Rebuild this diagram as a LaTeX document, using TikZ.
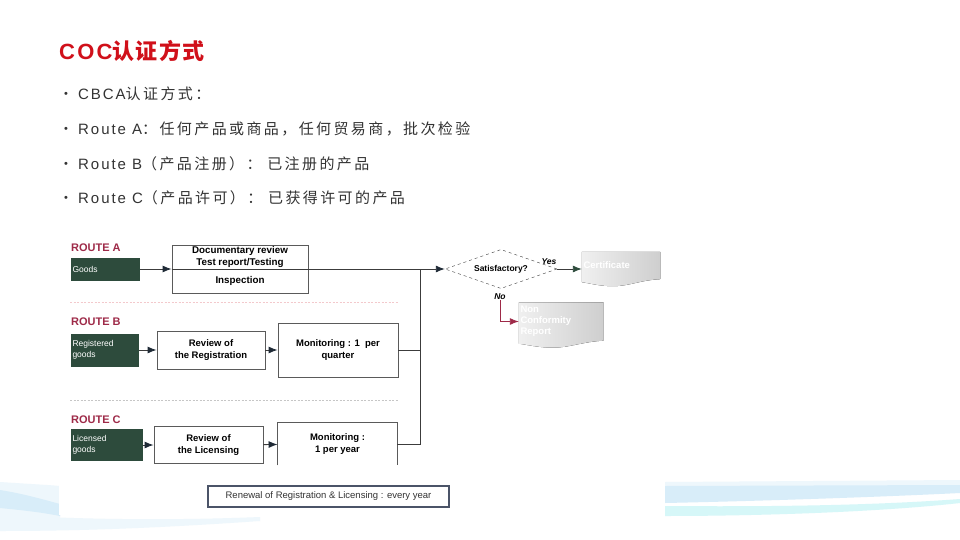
\documentclass[tikz,border=0pt]{standalone}
\usepackage{fontspec}
\setmainfont{Liberation Sans}
\newfontfamily\zhfont[LetterSpace=16]{Noto Sans CJK SC}
\newfontfamily\latinsp[LetterSpace=13]{Liberation Sans}
\newfontfamily\titlezh[LetterSpace=6]{Noto Sans CJK SC}
\newfontfamily\titlelat[LetterSpace=10]{Liberation Sans}
\usetikzlibrary{calc,positioning,shapes.geometric,arrows.meta,backgrounds}
\definecolor{cocred}{HTML}{D0101A}
\definecolor{routered}{HTML}{9E2A48}
\definecolor{goodsgreen}{HTML}{2D4B3C}
\definecolor{boxgray}{HTML}{5A5A5A}
\definecolor{linegray}{HTML}{3C3C3C}
\definecolor{tipdark}{HTML}{1F2A36}
\definecolor{pinkline}{HTML}{F3C9CC}
\definecolor{renewblue}{HTML}{4B5468}
\definecolor{bodytext}{HTML}{333333}
\definecolor{waveblue}{HTML}{D8EDF9}
\definecolor{wavecyan}{HTML}{D6F7F8}
\definecolor{wavepale}{HTML}{EEF7FC}

\begin{document}
\begin{tikzpicture}[x=1pt,y=-1pt]
\tikzstyle{bullet}=[inner sep=0pt, text=bodytext, font=\fontsize{11}{12}\selectfont]
\tikzstyle{line}=[anchor=west, inner sep=0pt, text=bodytext, font=\fontsize{15}{18}\selectfont]
\tikzstyle{route}=[anchor=west, inner sep=0pt, text=routered, font=\fontsize{11}{12}\selectfont\bfseries]
\tikzstyle{gbox}=[fill=goodsgreen, text=white, inner xsep=1.5pt, inner ysep=0pt, align=left, font=\fontsize{8.5}{10.5}\selectfont]
\tikzstyle{box}=[draw=boxgray, line width=0.9pt, fill=white, align=center, inner sep=0pt, font=\fontsize{9.5}{11.5}\selectfont\bfseries]
\tikzstyle{txt}=[align=center, inner sep=0pt, font=\fontsize{9.8}{12}\selectfont\bfseries]
\tikzstyle{doc}=[inner xsep=1.5pt, inner ysep=0pt, align=left, text=white, font=\fontsize{9.5}{11}\selectfont\bfseries]
\tikzstyle{docfill}=[left color=gray!12, right color=gray!38]
\tikzstyle{flow}=[draw=linegray, line width=0.9pt, -{Latex[length=9pt,width=7pt,color=tipdark]}]
\tikzstyle{link}=[draw=linegray, line width=0.9pt]
\tikzstyle{divider}=[line width=0.8pt, dash pattern=on 2pt off 1.5pt]
\useasboundingbox (0,0) rectangle (960,540);

% slide backdrop
\begin{scope}[on background layer]
\fill[white] (0,0) rectangle (960,540);
\fill[wavepale] (0,482) .. controls (30,484) and (50,485) .. (60,486) -- (60,520) -- (0,520) -- cycle;
\fill[waveblue] (0,490) .. controls (25,494) and (45,500) .. (60,504) -- (60,516) .. controls (40,512) and (20,510) .. (0,508) -- cycle;
\fill[wavepale] (0,515) .. controls (80,519) and (160,521) .. (260,517) -- (260,521) .. controls (160,528) and (80,531) .. (0,531) -- cycle;
\fill[wavepale] (665,482) -- (960,480) -- (960,488) .. controls (880,486) and (760,486) .. (665,487) -- cycle;
\fill[waveblue] (665,486) -- (960,485) -- (960,493) .. controls (880,497) and (760,501) .. (665,503) -- cycle;
\fill[wavecyan] (665,506) .. controls (780,507) and (880,505) .. (960,499) -- (960,503) .. controls (880,512) and (760,516) .. (665,516) -- cycle;
\fill[white] (59,212) rectangle (665,515);
\end{scope}

% title and bullets
\node[anchor=west, inner sep=0pt, text=cocred, font=\fontsize{22}{26}\selectfont\bfseries] (title) at (59,51) {{\titlelat COC}{\titlezh 认证方式}};
\foreach \y [count=\i] in {95,130,165,199} \node[bullet] (b\i) at (66,\y) {•};
\node[line] (l1) at (78,94) {{\latinsp CBCA}{\zhfont 认证方式：}};
\node[line] (l2) at (78,129) {{\latinsp Route A}{\zhfont ：任何产品或商品，任何贸易商，批次检验}};
\node[line] (l3) at (78,164) {{\latinsp Route B}{\zhfont （产品注册）： 已注册的产品}};
\node[line] (l4) at (78,198) {{\latinsp Route C}{\zhfont （产品许可）： 已获得许可的产品}};

% route A
\node[route] (ra) at (71,248) {ROUTE A};
\node[gbox, minimum width=69pt, minimum height=23pt, text width=66pt] (goods) at (105.5,269) {Goods};
\node[box, minimum width=136pt, minimum height=48pt] (docA) at (240,269) {};
\node[txt] (docAup) at (240,257) {Documentary review\\Test report/Testing};
\node[txt] (docAlo) at (240,281) {Inspection};
\draw[divider, draw=pinkline] (70,302) -- (398,302);

% route B
\node[route] (rb) at (71,322) {ROUTE B};
\node[gbox, minimum width=68pt, minimum height=33pt, text width=65pt] (regB) at (105,350) {Registered\\goods};
\node[box, minimum width=108pt, minimum height=38pt] (revB) at (211,350) {Review of\\the Registration};
\node[box, minimum width=120pt, minimum height=54pt] (monB) at (338,350) {Monitoring : 1\ \ per\\quarter};
\draw[divider, draw=gray!45] (70,400) -- (398,400);

% route C
\node[route] (rc) at (71,420) {ROUTE C};
\node[gbox, minimum width=72pt, minimum height=32pt, text width=69pt] (licC) at (107,445) {Licensed\\goods};
\node[box, minimum width=109pt, minimum height=37pt] (revC) at (208.5,445) {Review of\\the Licensing};
\node[box, draw=none, minimum width=119pt, minimum height=42pt] (monC) at (337.5,444) {Monitoring :\\1 per year};
\draw[draw=boxgray, line width=0.9pt] (monC.south west) -- (monC.north west) -- (monC.north east) -- (monC.south east);

% decision and outcomes
\node[diamond, draw=linegray, dashed, aspect=2.87, minimum width=112pt, minimum height=39pt, inner sep=1pt, font=\fontsize{8.5}{10}\selectfont\bfseries] (dec) at (501,269) {Satisfactory?};
\node[inner sep=0pt, font=\fontsize{8.5}{10}\selectfont\bfseries\itshape] (yes) at (549,262) {Yes};
\node[inner sep=0pt, font=\fontsize{8.5}{10}\selectfont\bfseries\itshape] (no) at (500,297) {No};
\node[doc, minimum width=78pt, minimum height=27pt, text width=75pt] (cert) at (621,265.5) {Certificate};
\node[doc, minimum width=84pt, minimum height=38pt, text width=81pt] (ncr) at (561,321.5) {Non\\Conformity\\Report};
\begin{scope}[on background layer]
\foreach \d in {cert,ncr}{
 \fill[docfill] (\d.north west) -- (\d.north east) -- (\d.south east) .. controls ($(\d.south east)+(-20,1)$) and ($(\d.south)+(8,7)$) .. ($(\d.south)+(-8,7)$) .. controls ($(\d.south)+(-22,7)$) and ($(\d.south west)+(8,4)$) .. ($(\d.south west)+(0,3)$) -- cycle;
 \draw[gray!55, line width=1.2pt] (\d.north east) -- (\d.south east);}
\end{scope}

\node[draw=renewblue, line width=1.3pt, minimum width=241pt, minimum height=21pt, inner sep=0pt, text=bodytext, font=\fontsize{9.5}{11}\selectfont] (renew) at (328.5,496.5) {Renewal of Registration \& Licensing : every year};

% connectors
\coordinate (jn) at (420,269);
\foreach \a/\b in {goods/docA,regB/revB,revB/monB,licC/revC,revC/monC}{\draw[flow] (\a) -- (\b);}
\draw[link] (docA.west) -- (docA.east);
\draw[flow] (docA.east) -- (dec.west);
\draw[link] (monB) -- (monB -| jn) -- (jn);
\draw[link] (monC) -- (monC -| jn) -- (jn);
\draw[flow, -{Latex[length=9pt,width=7pt,color=goodsgreen]}] (dec.east) -- (dec.east -| cert.west);
\draw[flow, draw=routered, -{Latex[length=9pt,width=7pt,color=routered]}] (no.south) |- (ncr.west);
\end{tikzpicture}
\end{document}
